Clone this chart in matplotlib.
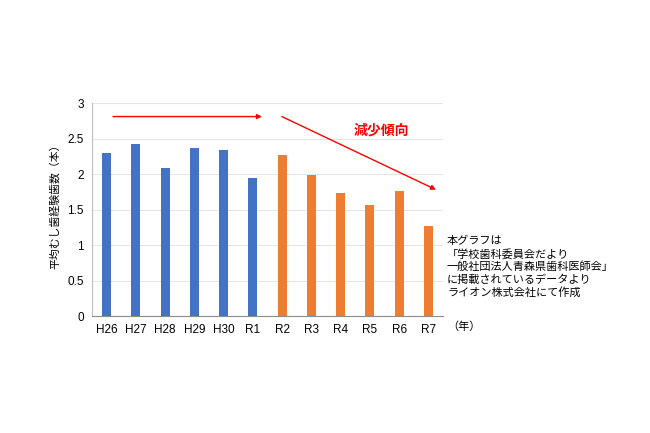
import matplotlib
matplotlib.use("Agg")
import matplotlib.pyplot as plt
import numpy as np

plt.rcParams['font.family'] = ['Liberation Sans', 'Noto Sans CJK JP', 'DejaVu Sans']

# data
years = ["H26", "H27", "H28", "H29", "H30", "R1", "R2", "R3", "R4", "R5", "R6", "R7"]
dmft = [2.30, 2.43, 2.08, 2.37, 2.34, 1.95, 2.27, 1.99, 1.74, 1.57, 1.76, 1.27]
n_blue = 6  # H26..R1 blue, R2.. orange

blue = "#4472C4"
orange = "#ED7D31"
colors = [blue] * n_blue + [orange] * (len(years) - n_blue)

fig = plt.figure(figsize=(6.5, 4.33), dpi=100)
ax = fig.add_axes([0.1415, 0.270, 0.540, 0.492])

x = np.arange(len(years))
ax.bar(x, dmft, width=0.31, color=colors, zorder=3)

ax.set_xlim(-0.5, len(years) - 0.5)
ax.set_ylim(0, 3)
ax.set_yticks([0, 0.5, 1, 1.5, 2, 2.5, 3])
ax.set_yticklabels(["0", "0.5", "1", "1.5", "2", "2.5", "3"])
ax.set_xticks(x)
ax.set_xticklabels(years)
ax.tick_params(axis='both', length=0, labelsize=8.5, pad=6)
ax.yaxis.grid(True, color="#e6e6e6", linewidth=0.8, zorder=0)

for s in ["top", "right"]:
    ax.spines[s].set_visible(False)
ax.spines["left"].set_color("#bfbfbf")
ax.spines["bottom"].set_color("#8c8c8c")

ax.set_ylabel("平均むし歯経験歯数（本）", fontsize=7.8)
ax.yaxis.set_label_coords(-0.091, 0.526)

# trend arrows
ax.annotate("", xy=(5.31, 2.81), xytext=(0.22, 2.81),
            arrowprops=dict(arrowstyle="-|>", color="red", lw=1.0,
                            mutation_scale=7, shrinkA=0, shrinkB=0))
ax.annotate("", xy=(11.26, 1.78), xytext=(5.99, 2.81),
            arrowprops=dict(arrowstyle="-|>", color="red", lw=1.0,
                            mutation_scale=7, shrinkA=0, shrinkB=0))
ax.text(9.38, 2.61, "減少傾向", color="red", fontsize=10, fontweight="bold",
        ha="center", va="center")

# unit label and source note
fig.text(447 / 650, 1 - 327 / 433, "（年）", fontsize=8, va="center", ha="left")
note = ("本グラフは\n"
        "「学校歯科委員会だより\n"
        "一般社団法人青森県歯科医師会」\n"
        "に掲載されているデータより\n"
        "ライオン株式会社にて作成")
fig.text(447 / 650, 1 - 236 / 433, note, fontsize=8, va="top", ha="left",
         linespacing=1.25)

fig.savefig("out.png", dpi=100, facecolor="white")
